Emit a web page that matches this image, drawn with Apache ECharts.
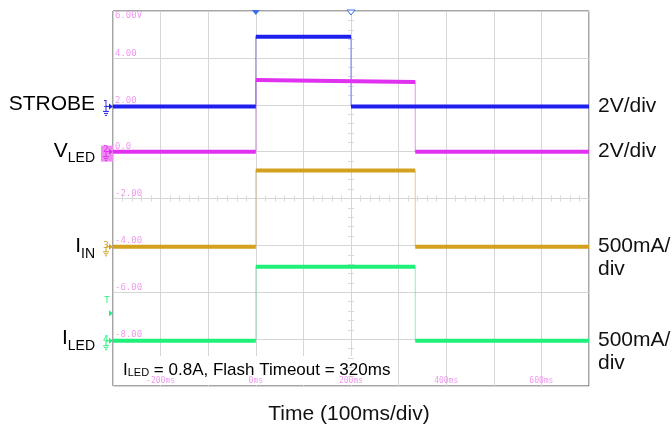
<!DOCTYPE html>
<html><head><meta charset="utf-8">
<script src="https://cdn.jsdelivr.net/npm/echarts@6/dist/echarts.min.js"></script>
<style>html,body{margin:0;padding:0;background:#fff}#c{width:672px;height:433px}</style>
</head><body><div id="c"></div>
<script>
// time in ms, values in scope display units (2 units per division)
const strobeT = [-300, 0, 0, 200, 200, 700];
const strobeV = [1.93, 1.93, 4.90, 4.90, 1.93, 1.93];
const vledT   = [-300, 0, 0, 335, 335, 700];
const vledV   = [0.0, 0.0, 3.06, 2.97, 0.0, 0.0];
const iinT    = [-300, 0, 0, 335, 335, 700];
const iinV    = [-4.06, -4.06, -0.81, -0.81, -4.06, -4.06];
const iledT   = [-300, 0, 0, 335, 335, 700];
const iledV   = [-8.07, -8.07, -4.91, -4.91, -8.07, -8.07];

const yTickValues = [4, 2, 0, -2, -4, -6, -8];
const yTickLabels = ['4.00', '2.00', '0.0', '-2.00', '-4.00', '-6.00', '-8.00'];
const yTopValue = 6, yTopLabel = '6.00V';
const xTickValues = [-200, 0, 200, 400, 600];
const xTickLabels = ['-200ms', '0ms', '200ms', '400ms', '600ms'];

const channels = [
  {name: 'STROBE', T: strobeT, V: strobeV, color: '#2020ee', num: '1', base: 1.93, scale: '2V/div'},
  {name: 'VLED', T: vledT, V: vledV, color: '#e030f0', num: '2', base: 0.0, scale: '2V/div'},
  {name: 'IIN', T: iinT, V: iinV, color: '#d4a11e', num: '3', base: -4.06, scale: '500mA/\ndiv'},
  {name: 'ILED', T: iledT, V: iledV, color: '#1ef07a', num: '4', base: -8.07, scale: '500mA/\ndiv'}
];

const pink = '#f29af2';
const chart = echarts.init(document.getElementById('c'), null, {renderer: 'canvas'});

const series = [];
channels.forEach(ch => {
  const full = ch.T.map((t, i) => [t, ch.V[i]]);
  series.push({type: 'line', name: ch.name + '_edge', data: full, symbol: 'none', silent: true,
    lineStyle: {color: ch.color, width: 1, opacity: 0.55}, z: 2});
  const thick = [];
  for (let i = 0; i < ch.T.length - 1; i++) {
    if (ch.T[i] !== ch.T[i + 1]) {
      thick.push([ch.T[i], ch.V[i]], [ch.T[i + 1], ch.V[i + 1]], [ch.T[i + 1], '-']);
    }
  }
  series.push({type: 'line', name: ch.name, data: thick, symbol: 'none', silent: true, connectNulls: false,
    lineStyle: {color: ch.color, width: 4}, z: 3});
});

const yLab = v => { const i = yTickValues.indexOf(v); return i >= 0 ? yTickLabels[i] : ''; };
const xLab = v => { const i = xTickValues.indexOf(v); return i >= 0 ? xTickLabels[i] : ''; };
const hidden = {axisLine: {show: false}, axisTick: {show: false}, axisLabel: {show: false}, splitLine: {show: false}};
const tickColor = '#d9d9d9';

chart.setOption({
  animation: false,
  grid: {left: 113, right: 83, top: 11, bottom: 47, show: true, borderColor: '#4a4a4a', borderWidth: 1, backgroundColor: 'transparent'},
  xAxis: [
    {type: 'value', min: -300, max: 700, interval: 100,
      axisLine: {show: false}, axisTick: {show: false},
      splitLine: {show: true, lineStyle: {color: '#d6d6d6', width: 1}},
      axisLabel: {inside: true, margin: 1, formatter: xLab, color: pink, fontSize: 8, fontFamily: 'DejaVu Sans Mono', verticalAlign: 'bottom', showMinLabel: false, showMaxLabel: false}},
    Object.assign({type: 'value', min: -300, max: 700, interval: 100, gridIndex: 0}, hidden,
      {axisLine: {show: true, onZero: true, onZeroAxisIndex: 2, lineStyle: {opacity: 0}},
       axisTick: {show: false, inside: false}, minorTick: {show: true, splitNumber: 5, length: 3, lineStyle: {color: tickColor}}}),
    Object.assign({type: 'value', min: -300, max: 700, interval: 100, gridIndex: 0}, hidden,
      {axisLine: {show: true, onZero: true, onZeroAxisIndex: 2, lineStyle: {opacity: 0}},
       axisTick: {show: false, inside: true}, minorTick: {show: true, splitNumber: 5, length: 3, lineStyle: {color: tickColor}}}),
    Object.assign({type: 'value', min: -500, max: 500}, hidden)
  ],
  yAxis: [
    {type: 'value', min: -10, max: 6, interval: 2,
      axisLine: {show: false}, axisTick: {show: false},
      splitLine: {show: true, lineStyle: {color: '#d6d6d6', width: 1}},
      axisLabel: {inside: true, margin: 2, formatter: yLab, color: pink, fontSize: 9, fontFamily: 'DejaVu Sans Mono', verticalAlign: 'bottom', showMaxLabel: false}},
    {type: 'value', min: -10, max: 6, interval: 2, position: 'left',
      axisLine: {show: false}, axisTick: {show: false}, splitLine: {show: false},
      axisLabel: {inside: true, margin: 2, formatter: v => v === yTopValue ? yTopLabel : '', color: pink, fontSize: 9, fontFamily: 'DejaVu Sans Mono', verticalAlign: 'top'}},
    Object.assign({type: 'value', min: -1, max: 1}, hidden),
    Object.assign({type: 'value', min: -10, max: 6, interval: 2, position: 'left'}, hidden,
      {axisLine: {show: true, onZero: true, onZeroAxisIndex: 3, lineStyle: {opacity: 0}},
       axisTick: {show: false, inside: false}, minorTick: {show: true, splitNumber: 5, length: 3, lineStyle: {color: tickColor}}}),
    Object.assign({type: 'value', min: -10, max: 6, interval: 2, position: 'left'}, hidden,
      {axisLine: {show: true, onZero: true, onZeroAxisIndex: 3, lineStyle: {opacity: 0}},
       axisTick: {show: false, inside: true}, minorTick: {show: true, splitNumber: 5, length: 3, lineStyle: {color: tickColor}}})
  ],
  series: series
});

// decorations anchored to the axes
const px = (t, v) => chart.convertToPixel({xAxisIndex: 0, yAxisIndex: 0}, [t, v]);
const g = [];
const labelFont = 'Liberation Sans, Arial, sans-serif';
const leftLabels = [
  {rich: '{b|STROBE}'},
  {rich: '{b|V}{s|LED}'},
  {rich: '{b|I}{s|IN}'},
  {rich: '{b|I}{s|LED}'}
];
const richStyles = {
  b: {fontSize: 21, fontFamily: labelFont, color: '#111', verticalAlign: 'bottom', lineHeight: 22},
  s: {fontSize: 14, fontFamily: labelFont, color: '#111', verticalAlign: 'bottom', lineHeight: 14, padding: [0, 0, -4, 0]}
};
const leftDy = [8, 10, 10, 8];
channels.forEach((ch, k) => {
  const [x0, y0] = px(-300, ch.base);
  g.push({type: 'text', x: 95, y: y0 + leftDy[k], style: {text: leftLabels[k].rich, rich: richStyles, align: 'right', verticalAlign: 'bottom'}});
  // channel marker
  if (ch.num === '2') {
    g.push({type: 'rect', shape: {x: x0 - 12, y: y0 - 6, width: 12, height: 16}, style: {fill: '#ee8cf4'}});
  }
  g.push({type: 'text', x: x0 - 10, y: y0 - 6, style: {text: ch.num, fontSize: 9, fontFamily: 'DejaVu Sans', fill: ch.color, verticalAlign: 'top'}});
  g.push({type: 'polygon', shape: {points: [[x0 - 4, y0 - 3], [x0, y0], [x0 - 4, y0 + 3]]}, style: {fill: ch.color}});
  g.push({type: 'polyline', shape: {points: [[x0 - 7, y0], [x0 - 4, y0]]}, style: {stroke: ch.color, lineWidth: 1}});
  g.push({type: 'polyline', shape: {points: [[x0 - 7, y0], [x0 - 7, y0 + 5]]}, style: {stroke: ch.color, lineWidth: 1}});
  g.push({type: 'polyline', shape: {points: [[x0 - 10, y0 + 5], [x0 - 4, y0 + 5]]}, style: {stroke: ch.color, lineWidth: 1}});
  g.push({type: 'polyline', shape: {points: [[x0 - 9, y0 + 7], [x0 - 5, y0 + 7]]}, style: {stroke: ch.color, lineWidth: 1}});
  g.push({type: 'polyline', shape: {points: [[x0 - 8, y0 + 9], [x0 - 6, y0 + 9]]}, style: {stroke: ch.color, lineWidth: 1}});
  // scale label on right
  const [x1] = px(700, ch.base);
  g.push({type: 'text', x: x1 + 9, y: y0 - 12, style: {text: ch.scale, fontSize: 21, fontFamily: labelFont, fill: '#111', lineHeight: 23, verticalAlign: 'top'}});
});
// trigger-level marker on channel 4
{
  const [x0, y0] = px(-300, -6.9);
  const c = channels[3].color;
  g.push({type: 'text', x: x0 - 6, y: y0 - 16, style: {text: 'T', fontSize: 8, fontFamily: 'DejaVu Sans', fill: c, align: 'center'}});
  g.push({type: 'polygon', shape: {points: [[x0 - 4, y0 - 3], [x0, y0], [x0 - 4, y0 + 3]]}, style: {fill: c}});
}
// trigger position markers at top
{
  const [xa, ya] = px(0, 6);
  g.push({type: 'polygon', shape: {points: [[xa - 4, ya - 1], [xa + 4, ya - 1], [xa, ya + 4]]}, style: {fill: '#3a6ee8'}});
  const [xb] = px(200, 6);
  g.push({type: 'polygon', shape: {points: [[xb - 4, ya - 1], [xb + 4, ya - 1], [xb, ya + 4]]}, style: {fill: '#fff', stroke: '#3a6ee8', lineWidth: 1}});
}
// annotation box
{
  const [xl, yb] = px(-300, -10);
  g.push({type: 'rect', shape: {x: xl + 1, y: yb - 30, width: 281, height: 29}, style: {fill: '#fff'}});
  g.push({type: 'text', x: xl + 10, y: yb - 7, style: {
    text: '{i|I}{s|LED}{n| = 0.8A, Flash Timeout = 320ms}', verticalAlign: 'bottom',
    rich: {
      i: {fontSize: 17, fontFamily: labelFont, color: '#111'},
      s: {fontSize: 11, fontFamily: labelFont, color: '#111', padding: [0, 0, -5, 0]},
      n: {fontSize: 17, fontFamily: labelFont, color: '#111'}
    }}});
}
// x axis title
{
  const [xc] = px(200, -10);
  g.push({type: 'text', x: xc - 2, y: 414, style: {text: 'Time (100ms/div)', fontSize: 21, fontFamily: labelFont, fill: '#111', align: 'center', verticalAlign: 'middle'}});
}
chart.setOption({graphic: g});
</script>
</body></html>
